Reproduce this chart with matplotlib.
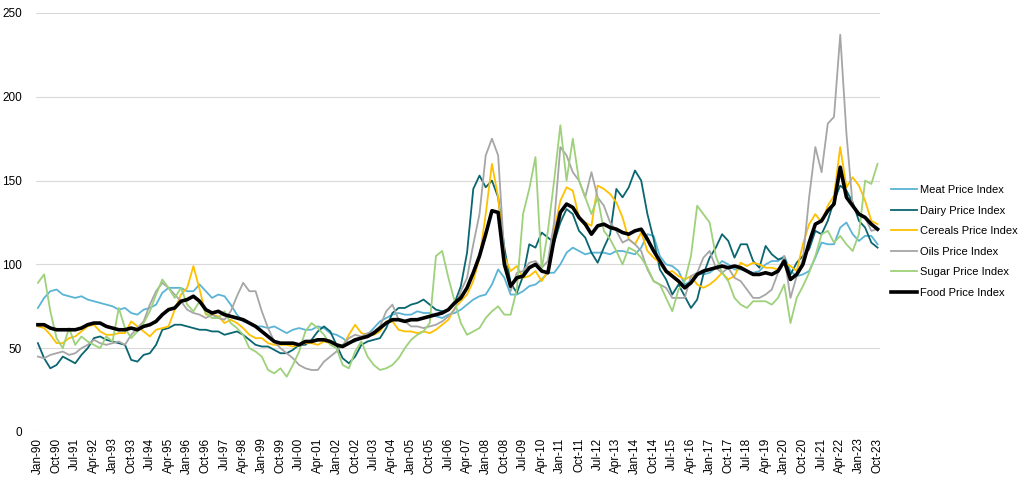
import matplotlib.pyplot as plt

plt.rcParams['font.family'] = ['Liberation Sans Narrow', 'Liberation Sans', 'DejaVu Sans']

# quarterly readings (Jan, Apr, Jul, Oct) from Jan-90 to Oct-23
meat = [74, 80, 84, 85, 82, 81, 80, 81, 79, 78, 77, 76, 75, 73, 74, 71,
        70, 73, 74, 76, 83, 86, 86, 86, 84, 84, 88, 84, 80, 82, 81, 76,
        70, 66, 65, 63, 63, 62, 63, 61, 59, 61, 62, 61, 61, 63, 62, 59,
        58, 56, 53, 54, 56, 58, 62, 66, 68, 70, 71, 70, 70, 72, 71, 71,
        69, 68, 70, 71, 73, 76, 79, 81, 82, 88, 97, 92, 82, 82, 84, 87,
        88, 91, 95, 95, 100, 107, 110, 108, 106, 107, 107, 107, 106, 108, 108, 107,
        106, 110, 118, 117, 105, 100, 99, 96, 88, 90, 95, 94, 95, 98, 102, 100,
        97, 97, 96, 95, 96, 100, 102, 102, 105, 96, 93, 94, 96, 104, 113, 112,
        112, 122, 125, 118, 114, 117, 117, 112]
dairy = [53, 44, 38, 40, 45, 43, 41, 46, 50, 56, 57, 55, 54, 53, 52, 43,
         42, 46, 47, 52, 61, 62, 64, 64, 63, 62, 61, 61, 60, 60, 58, 59,
         60, 58, 55, 52, 51, 51, 49, 47, 47, 49, 52, 52, 55, 60, 63, 60,
         52, 44, 41, 45, 52, 54, 55, 56, 62, 71, 74, 74, 76, 77, 79, 76,
         73, 72, 73, 77, 87, 107, 145, 153, 146, 150, 140, 110, 89, 83, 93, 112,
         110, 119, 116, 113, 125, 133, 130, 120, 116, 107, 101, 110, 118, 145, 140, 146,
         156, 150, 130, 115, 97, 91, 82, 88, 81, 74, 79, 94, 104, 110, 118, 114,
         104, 112, 112, 102, 98, 111, 106, 103, 104, 94, 101, 105, 109, 120, 118, 126,
         138, 147, 144, 137, 126, 122, 113, 110]
cereals = [63, 62, 58, 53, 53, 56, 57, 60, 63, 64, 60, 58, 58, 59, 59, 66,
           63, 60, 57, 61, 62, 63, 73, 82, 86, 99, 85, 70, 70, 69, 65, 67,
           65, 62, 58, 56, 56, 53, 52, 52, 52, 51, 52, 53, 53, 52, 54, 53,
           52, 51, 58, 64, 59, 58, 58, 60, 66, 66, 61, 60, 60, 59, 60, 59,
           61, 64, 67, 74, 78, 82, 90, 104, 130, 160, 140, 105, 96, 99, 92, 93,
           96, 90, 96, 120, 138, 146, 144, 128, 125, 123, 147, 145, 142, 137, 128, 115,
           112, 119, 108, 104, 101, 95, 96, 93, 91, 93, 88, 86, 88, 91, 95, 91,
           93, 101, 99, 101, 100, 98, 98, 97, 101, 99, 96, 112, 124, 130, 125, 135,
           141, 170, 146, 152, 147, 138, 126, 124]
oils = [45, 44, 46, 47, 48, 46, 47, 50, 52, 55, 53, 52, 53, 54, 52, 58,
        62, 66, 76, 84, 89, 86, 82, 78, 73, 71, 70, 68, 70, 68, 67, 72,
        81, 89, 84, 84, 72, 62, 54, 50, 47, 44, 40, 38, 37, 37, 42, 45,
        48, 52, 56, 58, 57, 59, 60, 63, 72, 76, 67, 66, 63, 63, 62, 63,
        64, 66, 69, 73, 84, 92, 112, 130, 165, 175, 165, 105, 84, 95, 96, 101,
        102, 98, 102, 125, 170, 165, 155, 150, 140, 155, 140, 135, 125, 120, 113, 115,
        112, 108, 97, 90, 88, 86, 80, 80, 80, 93, 95, 104, 108, 98, 95, 98,
        92, 90, 85, 80, 80, 82, 85, 95, 105, 80, 93, 103, 140, 170, 155, 184,
        188, 237, 178, 135, 130, 128, 120, 121]
sugar = [89, 94, 72, 56, 50, 62, 52, 57, 54, 52, 50, 57, 54, 74, 62, 56,
         60, 65, 72, 82, 91, 86, 80, 86, 76, 72, 78, 71, 68, 68, 72, 65,
         62, 58, 50, 48, 45, 37, 35, 38, 33, 40, 48, 60, 65, 62, 58, 52,
         50, 40, 38, 48, 54, 45, 40, 37, 38, 40, 44, 50, 55, 58, 60, 65,
         105, 108, 92, 78, 65, 58, 60, 62, 68, 72, 75, 70, 70, 85, 130, 145,
         164, 97, 120, 150, 183, 150, 175, 150, 140, 130, 140, 120, 115, 108, 100, 110,
         108, 104, 98, 90, 88, 80, 72, 85, 90, 105, 135, 130, 125, 105, 95, 90,
         80, 76, 74, 78, 78, 78, 76, 80, 88, 65, 80, 87, 95, 105, 118, 120,
         113, 117, 112, 108, 118, 150, 148, 160]
food = [64, 64, 62, 61, 61, 61, 61, 62, 64, 65, 65, 63, 62, 61, 61, 62,
        61, 63, 64, 66, 70, 73, 74, 78, 79, 81, 78, 73, 71, 72, 70, 69,
        68, 67, 65, 63, 60, 57, 54, 53, 53, 53, 52, 54, 54, 55, 55, 54,
        52, 51, 53, 55, 56, 57, 59, 62, 65, 67, 67, 66, 67, 67, 68, 69,
        70, 71, 73, 77, 80, 86, 95, 105, 118, 132, 131, 100, 87, 92, 93, 98,
        100, 96, 95, 115, 131, 136, 134, 128, 124, 118, 123, 124, 122, 121, 119, 118,
        120, 121, 115, 108, 102, 96, 93, 90, 86, 89, 94, 96, 97, 98, 99, 98,
        99, 98, 96, 94, 94, 95, 94, 96, 102, 91, 94, 100, 113, 124, 126, 132,
        136, 158, 140, 135, 130, 128, 124, 121]

months = ['Jan', 'Apr', 'Jul', 'Oct']
x = list(range(0, 3 * len(food), 3))

tick_pos = list(range(0, 406, 9))
tick_labels = []
for p in tick_pos:
    tick_labels.append(months[(p % 12) // 3] + '-' + str((90 + p // 12) % 100).zfill(2))

series = [
    ("Meat Price Index", meat, "#5AB4D6", 1.3),
    ("Dairy Price Index", dairy, "#0A6670", 1.3),
    ("Cereals Price Index", cereals, "#FFC000", 1.3),
    ("Oils Price Index", oils, "#A6A6A6", 1.3),
    ("Sugar Price Index", sugar, "#9DD17A", 1.3),
    ("Food Price Index", food, "black", 2.6),
]

fig = plt.figure(figsize=(10.24, 4.8), dpi=100)
ax = fig.add_axes([0.035, 0.1, 0.824, 0.873])

for name, vals, col, lw in series:
    ax.plot(x, vals, color=col, linewidth=lw, label=name)

ax.set_xlim(-1, 406)
ax.set_ylim(0, 250)
ax.set_yticks([0, 50, 100, 150, 200, 250])
ax.set_xticks(tick_pos)
ax.set_xticklabels(tick_labels, rotation=90, fontsize=8.5)
ax.tick_params(axis='y', labelsize=8.5, length=0, pad=10)
ax.tick_params(axis='x', length=0, pad=4)
ax.grid(axis='y', color='#D9D9D9', linewidth=0.8)
ax.set_axisbelow(True)
for s in ax.spines.values():
    s.set_visible(False)

ax.legend(loc='center left', bbox_to_anchor=(1.0, 0.455), frameon=False,
          fontsize=8, handlelength=2.4, handletextpad=0.2, labelspacing=0.95,
          borderaxespad=0.6)

plt.savefig("out.png", dpi=100)
